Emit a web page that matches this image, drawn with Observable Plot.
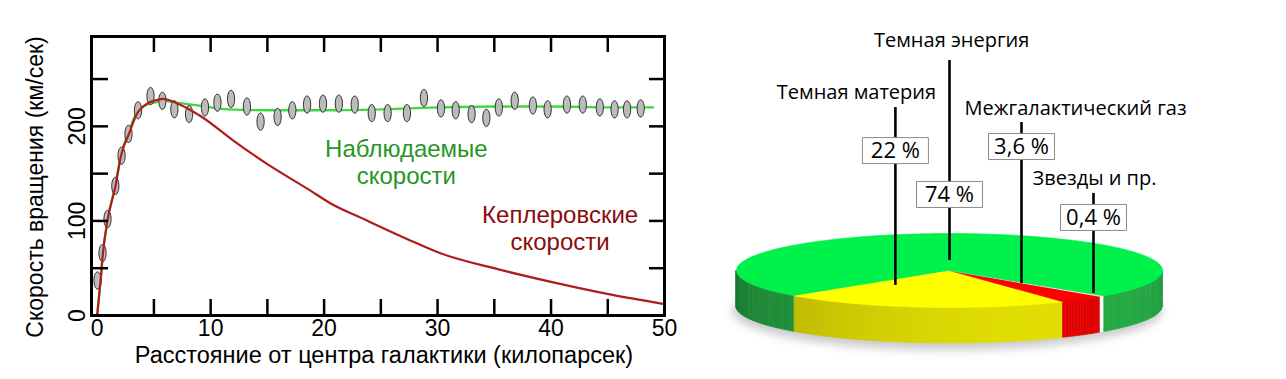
<!DOCTYPE html>
<html><head><meta charset="utf-8">
<script src="https://cdn.jsdelivr.net/npm/d3@7"></script>
<script src="https://cdn.jsdelivr.net/npm/@observablehq/plot@0.6"></script>
<style>
body{margin:0;background:#fff}
#wrap{display:flex;width:1286px;height:379px;overflow:hidden}
</style>
</head><body><div id="wrap"></div>
<script>
// ---------- DATA ----------
// Rotation curve (kpc, km/s)
const keplerX = [0, 0.3, 0.5, 0.9, 1.6, 2.1, 2.8, 3.5, 4.4, 5.0, 5.8, 7.1, 9.1, 12, 15, 18.8, 20.5, 23.5, 27.3, 30.2, 35.3, 40.2, 45.3, 50];
const keplerV = [0, 37, 65, 100, 136, 169, 192, 213, 224, 227, 229, 224, 211, 185, 160, 132, 119, 102, 81, 66, 49, 35, 22, 12];
const observedX = [0, 0.3, 0.5, 0.9, 1.6, 2.1, 2.8, 3.5, 4.4, 5.0, 5.8, 7.0, 9.0, 11.5, 15, 20, 25, 30, 35, 40, 45, 49];
const observedV = [0, 37, 65, 100, 138, 170, 195, 215, 223, 225, 227, 225, 222, 218, 217, 217, 218, 220, 221, 221, 220, 220];
const pointsX = [0.03, 0.47, 0.91, 1.6, 2.15, 2.76, 3.6, 4.7, 5.75, 6.8, 8.1, 9.5, 10.6, 11.8, 13.2, 14.4, 15.9, 17.2, 18.5, 19.9, 21.3, 22.7, 24.2, 25.6, 27.3, 28.8, 30.3, 31.6, 33.0, 34.3, 35.4, 36.8, 38.4, 39.7, 41.4, 42.8, 44.3, 45.6, 46.7, 47.9];
const pointsV = [37, 66, 102, 137, 169, 192, 217, 232, 227, 218, 213, 220, 225, 229, 221, 205, 210, 217, 223, 224, 224, 223, 214, 214, 214, 230, 219, 217, 213, 209, 220, 227, 222, 218, 223, 223, 220, 218, 218, 219];
const xTickLabels = [0, 10, 20, 30, 40, 50];
const yTickLabels = [0, 100, 200];
const xMinorTicks = [5, 10, 15, 20, 25, 30, 35, 40, 45];
const yMinorTicks = [50, 100, 150, 200, 250];
const xTitle = "Расстояние от центра галактики (килопарсек)";
const yTitle = "Скорость вращения (км/сек)";
const observedLabel = "Наблюдаемые\nскорости";
const keplerLabel = "Кеплеровские\nскорости";

// Composition of the Universe (%), in clockwise order
const componentNames = ["Темная материя", "Межгалактический газ", "Звезды и пр.", "Темная энергия"];
const componentShares = [22, 3.6, 0.4, 74];
const shareLabels = ["22 %", "3,6 %", "0,4 %", "74 %"];

// ---------- LAYOUT / STYLE ----------
const H = 379, W1 = 690, W2 = 596;
const topColors = ["#ffff00", "#ff0000", "#f2f2f2", "#00f04c"];
const sideColors = ["#e2de00", "#e20000", "#ffffff", "#24ac44"];
// label layout in pie units (1 unit = pie x-radius)
const labelLayout = [
  {tx: -0.437, ty: -0.836, lx: -0.254, top: -0.765, bottom: 0.070, by: -0.563},
  {tx: 0.592, ty: -0.761, lx: 0.338, top: -0.695, bottom: 0.061, by: -0.582},
  {tx: 0.681, ty: -0.432, lx: 0.676, top: -0.362, bottom: 0.108, by: -0.249},
  {tx: 0.01, ty: -1.080, lx: 0.0, top: -0.986, bottom: -0.047, by: -0.357}
];

const zip = (xs, vs) => xs.map((x, i) => ({x, v: vs[i]}));
const kepler = zip(keplerX, keplerV);
const observed = zip(observedX, observedV);
const points = zip(pointsX, pointsV);

const ellipseSymbol = {draw(ctx) {
  const rx = 3.6, ry = 8.6, k = 0.5523;
  ctx.moveTo(rx, 0);
  ctx.bezierCurveTo(rx, ry * k, rx * k, ry, 0, ry);
  ctx.bezierCurveTo(-rx * k, ry, -rx, ry * k, -rx, 0);
  ctx.bezierCurveTo(-rx, -ry * k, -rx * k, -ry, 0, -ry);
  ctx.bezierCurveTo(rx * k, -ry, rx, -ry * k, rx, 0);
  ctx.closePath();
}};

const mL = 91, mR = 26, mT = 36, mB = 64;
const pw = W1 - mL - mR, ph = H - mT - mB;

const left = Plot.plot({
  width: W1, height: H,
  marginLeft: mL, marginRight: mR, marginTop: mT, marginBottom: mB,
  style: {fontFamily: "'Liberation Sans', Arial, sans-serif", background: "#fff", color: "#000", overflow: "visible"},
  x: {domain: [-0.5, 50], axis: null},
  y: {domain: [0, 295], axis: null},
  marks: [
    Plot.line(observed, {x: "x", y: "v", stroke: "#40d840", strokeWidth: 2.3, curve: "monotone-x"}),
    Plot.dot(points, {x: "x", y: "v", symbol: ellipseSymbol, fill: "#bcbcbc", stroke: "#1a1a1a", strokeWidth: 0.9}),
    Plot.line(kepler, {x: "x", y: "v", stroke: "#b01c1c", strokeWidth: 2.2, curve: "monotone-x"}),
    Plot.ruleX(xMinorTicks, {insetTop: ph - 16, strokeWidth: 2.5}),
    Plot.ruleX(xMinorTicks, {insetBottom: ph - 16, strokeWidth: 2.5}),
    Plot.ruleY(yMinorTicks, {insetRight: pw - 17, strokeWidth: 2.5}),
    Plot.ruleY(yMinorTicks, {insetLeft: pw - 15, strokeWidth: 2.5}),
    Plot.frame({strokeWidth: 3}),
    Plot.text(xTickLabels, {x: d => d, frameAnchor: "bottom", textAnchor: "middle", lineAnchor: "middle", dy: 13, text: d => String(d), fontSize: 23}),
    Plot.text(yTickLabels, {y: d => d, frameAnchor: "left", textAnchor: "middle", lineAnchor: "middle", dx: -14, rotate: -90, text: d => String(d), fontSize: 23}),
    Plot.text([xTitle], {frameAnchor: "bottom", textAnchor: "middle", lineAnchor: "middle", dx: 6, dy: 40, fontSize: 23.5}),
    Plot.text([yTitle], {frameAnchor: "left", textAnchor: "middle", lineAnchor: "middle", dx: -56, dy: 11, rotate: -90, fontSize: 23}),
    Plot.text([observedLabel], {x: 27.25, y: 162, fill: "#269626", fontSize: 24, lineHeight: 1.12}),
    Plot.text([keplerLabel], {x: 40.8, y: 93, fill: "#8a0c0c", fontSize: 24, lineHeight: 1.12})
  ]
});

// ---------- PIE ----------
const R = 213, K = 37 / 213, D = 36 / 213, startAngle = 137;
const cxPx = 949 - W1, cyPx = 270;
const rad = Math.PI / 180;
let acc = startAngle;
const slices = componentShares.map((s, i) => { const a0 = acc; acc -= s * 3.6; return {i, a0, a1: acc}; });

const topRows = [];
slices.forEach(({i, a0, a1}) => {
  topRows.push({x: 0, y: 0, id: i});
  const n = Math.max(2, Math.ceil((a0 - a1) / 1) + 1);
  for (let j = 0; j < n; j++) {
    const t = (a0 + (a1 - a0) * j / (n - 1)) * rad;
    topRows.push({x: Math.cos(t), y: K * Math.sin(t), id: i});
  }
});

const shade = (c, deg) => {
  const f = 0.8 + 0.2 * Math.cos((deg - 60) * rad);
  const q = d3.rgb(c);
  return d3.rgb(q.r * f, q.g * f, q.b * f).formatHex();
};
const sideRows = [];
let sid = 0;
slices.forEach(({i, a0, a1}) => {
  for (const k of [-360, 0, 360]) {
    const lo = Math.max(a1 + k, 0), hi = Math.min(a0 + k, 180);
    if (hi <= lo) continue;
    const n = Math.max(1, Math.ceil((hi - lo) / 1));
    for (let j = 0; j < n; j++) {
      const d0 = lo + (hi - lo) * j / n, d1 = lo + (hi - lo) * (j + 1) / n;
      const col = shade(sideColors[i], (d0 + d1) / 2);
      for (const d of [d0, d1]) {
        sideRows.push({x: Math.cos(d * rad), y1: K * Math.sin(d * rad), y2: K * Math.sin(d * rad) + D, id: sid, c: col});
      }
      sid++;
    }
  }
});

const shadowRows = d3.range(0, 361, 3).map(d => ({x: 1.01 * Math.cos(d * rad) - 0.01, y: K * 1.05 * Math.sin(d * rad) + D + 0.02}));

const labels = componentNames.map((name, i) => ({name, share: shareLabels[i], ...labelLayout[i]}));

const boxSymbol = {draw(ctx) { ctx.rect(-33, -13, 66, 26); }};

const right = Plot.plot({
  width: W2, height: H, margin: 0,
  style: {fontFamily: "'Open Sans', 'Noto Sans', sans-serif", background: "#fff", color: "#000", overflow: "visible"},
  x: {domain: [-cxPx / R, (W2 - cxPx) / R], range: [0, W2], axis: null},
  y: {domain: [-cyPx / R, (H - cyPx) / R], range: [0, H], axis: null},
  color: {type: "identity"},
  marks: [
    Plot.line(shadowRows, {x: "x", y: "y", fill: "#9a9a9a", stroke: "none", fillOpacity: 0.55, imageFilter: "blur(5px)"}),
    Plot.areaY(sideRows, {x: "x", y1: "y1", y2: "y2", z: "id", fill: "c", stroke: "c", strokeWidth: 0.6}),
    ...slices.map(({i}) => Plot.line(topRows.filter(r => r.id === i), {x: "x", y: "y", fill: topColors[i], stroke: topColors[i], strokeWidth: 0.6, strokeLinejoin: "miter"})),
    Plot.ruleX(labels, {x: "lx", y1: "top", y2: "bottom", stroke: "#000", strokeWidth: 2.6}),
    Plot.dot(labels, {x: "lx", y: "by", symbol: boxSymbol, fill: "#fff", stroke: "#8a8a8a", strokeWidth: 1}),
    Plot.text(labels, {x: "lx", y: "by", text: "share", fontSize: 22}),
    Plot.text(labels, {x: "tx", y: "ty", text: "name", fontSize: 20})
  ]
});

document.getElementById("wrap").append(left, right);
</script>
</body></html>
